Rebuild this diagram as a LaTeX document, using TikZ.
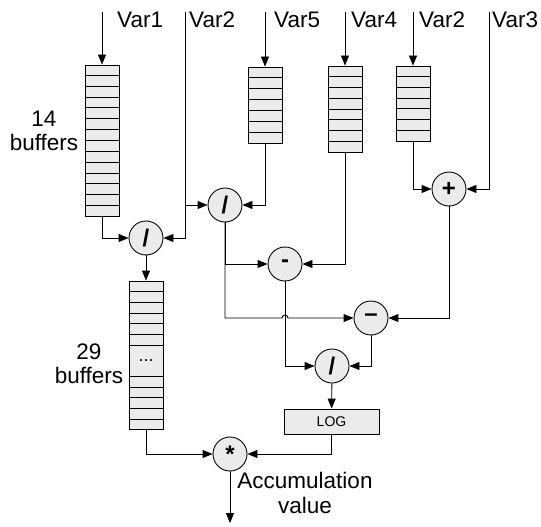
\documentclass[tikz,border=0pt]{standalone}
\usepackage{fontspec}
\setmainfont{Liberation Sans}
\usepackage{tikz}
\usetikzlibrary{arrows.meta, calc}
\definecolor{bufgray}{HTML}{EBEBEB}

\begin{document}
\begin{tikzpicture}[x=1pt, y=-1pt,
  wire/.style={line width=0.9pt, black, -{Triangle[length=10pt,width=8pt]}},
  buf/.style={draw, line width=0.9pt, fill=bufgray, minimum width=34pt, inner sep=0pt},
  op/.style={circle, draw, line width=0.9pt, fill=bufgray, minimum size=34pt, inner sep=0pt,
             font=\fontsize{24}{24}\selectfont\bfseries},
  var/.style={anchor=west, inner sep=0pt, font=\fontsize{22.5}{24}\selectfont},
  note/.style={align=center, font=\fontsize{22.5}{24.5}\selectfont}
]
  \useasboundingbox (0,0) rectangle (541,527);

  % buffers
  \node[buf, minimum height=151pt] (bufA) at (102,140.5) {};
  \node[buf, minimum height=148.8pt] (bufB) at (146,355.4) {};
  \node[buf, minimum height=76pt] (bufC) at (265,105) {};
  \node[buf, minimum height=86pt] (bufD) at (345,109) {};
  \node[buf, minimum height=75pt] (bufE) at (413,103.5) {};
  \foreach \b/\n in {bufA/14, bufC/7, bufD/8, bufE/7}
    \foreach \k in {1,...,\n}
      \draw[line width=0.9pt] ($(\b.north west)!\k/\n!(\b.south west)$) -- ($(\b.north east)!\k/\n!(\b.south east)$);
  \foreach \k in {1,...,6}
    \draw[line width=0.9pt] (bufB.north west) ++(0,\k*10.8) -- ++(34,0);
  \foreach \k in {1,...,5}
    \draw[line width=0.9pt] (bufB.south west) ++(0,-\k*10.8) -- ++(34,0);
  \node[font=\fontsize{18}{18}\selectfont] (dots) at (146,361) {...};

  % operators
  \node[op] (divA) at (146,238) {/};
  \node[op] (divB) at (225,205) {/};
  \node[op] (plus) at (449,189) {+};
  \node[op] (subA) at (285,264) {-};
  \node[op] (subB) at (371,318) {--};
  \node[op] (divC) at (332,366) {/};
  \node[op] (mul) at (230,454) {*};
  \node[draw, line width=0.9pt, fill=bufgray, minimum width=95pt, minimum height=25pt,
        inner sep=0pt, font=\fontsize{14}{14}\selectfont] (logbox) at (331.5,421.5) {LOG};

  % inputs
  \coordinate (inV1) at (102,12);
  \coordinate (inV2a) at (185,12);
  \coordinate (tap) at (185,205);
  \coordinate (inV5) at (265,12);
  \coordinate (inV4) at (345,12);
  \coordinate (inV2b) at (413,12);
  \coordinate (inV3) at (489,12);
  \coordinate (out) at (230,523);
  \node[var] (lV1) at (117,20) {Var1};
  \node[var] (lV2a) at (189,20) {Var2};
  \node[var] (lV5) at (274,20) {Var5};
  \node[var] (lV4) at (351,20) {Var4};
  \node[var] (lV2b) at (419,20) {Var2};
  \node[var] (lV3) at (492,20) {Var3};

  % labels
  \node[note] (nA) at (44,131) {14\\buffers};
  \node[note] (nB) at (89,364) {29\\buffers};
  \node[note] (nAcc) at (305,493) {Accumulation\\value};

  % connections
  \draw[wire] (inV1) -- (bufA);
  \draw[wire] (inV2a) |- (divA);
  \draw[wire] (tap) -- (divB);
  \draw[wire] (inV5) -- (bufC);
  \draw[wire] (inV4) -- (bufD);
  \draw[wire] (inV2b) -- (bufE);
  \draw[wire] (inV3) |- (plus);
  \draw[wire] (bufA.south) |- (divA);
  \draw[wire] (divA) -- (bufB);
  \draw[wire] (bufB.south) |- (mul);
  \draw[wire] (bufC.south) |- (divB);
  \draw[wire] (bufD.south) |- (subA);
  \draw[wire] (bufE.south) |- (plus);
  \draw[wire] (divB.south) |- (subA);
  \coordinate (hop) at (subA.south |- subB);
  \draw[wire] (divB.south) |- ([xshift=-3pt]hop) arc[start angle=180, end angle=360, radius=3] -- (subB);
  \draw[wire] (plus.south) |- (subB);
  \draw[wire] (subA.south) |- (divC);
  \draw[wire] (subB.south) |- (divC);
  \draw[wire] (divC) -- (logbox);
  \draw[wire] (logbox.south) |- (mul);
  \draw[wire] (mul) -- (out);
\end{tikzpicture}
\end{document}
